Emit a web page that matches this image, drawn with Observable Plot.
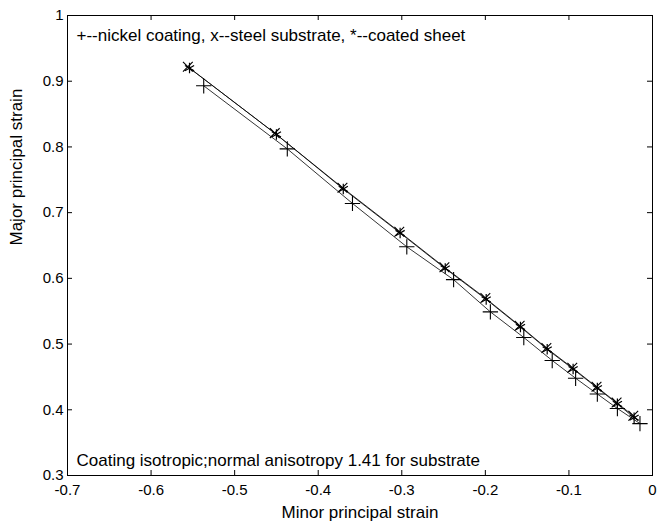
<!DOCTYPE html>
<html>
<head>
<meta charset="utf-8">
<script src="https://cdn.jsdelivr.net/npm/d3@7"></script>
<script src="https://cdn.jsdelivr.net/npm/@observablehq/plot@0.6"></script>
<style>
  html, body { margin: 0; padding: 0; background: #fff; }
  #chart { width: 665px; height: 522px; }
</style>
</head>
<body>
<div id="chart"></div>
<script>
// + nickel coating
const nickelMinor = [-0.537, -0.437, -0.359, -0.294, -0.238, -0.194, -0.154, -0.120, -0.092, -0.066, -0.042, -0.015];
const nickelMajor = [0.893, 0.797, 0.714, 0.648, 0.598, 0.549, 0.510, 0.475, 0.448, 0.424, 0.402, 0.379];
// x steel substrate
const steelMinor = [-0.556, -0.452, -0.371, -0.303, -0.249, -0.200, -0.159, -0.127, -0.096, -0.067, -0.043, -0.023];
const steelMajor = [0.922, 0.821, 0.738, 0.671, 0.617, 0.570, 0.528, 0.494, 0.464, 0.435, 0.411, 0.391];
// * coated sheet
const sheetMinor = [-0.554, -0.450, -0.370, -0.302, -0.248, -0.199, -0.158, -0.126, -0.095, -0.066, -0.042, -0.022];
const sheetMajor = [0.920, 0.819, 0.736, 0.669, 0.615, 0.568, 0.526, 0.492, 0.462, 0.433, 0.409, 0.388];

const xTicks = [-0.7, -0.6, -0.5, -0.4, -0.3, -0.2, -0.1, 0];
const yTicks = [0.3, 0.4, 0.5, 0.6, 0.7, 0.8, 0.9, 1];
const legendText = "+--nickel coating, x--steel substrate, *--coated sheet";
const noteText = "Coating isotropic;normal anisotropy 1.41 for substrate";
const xLabel = "Minor principal strain";
const yLabel = "Major principal strain";

const toRows = (xs, ys) => xs.map((x, i) => ({x, y: ys[i]}));
const nickel = toRows(nickelMinor, nickelMajor);
const steel = toRows(steelMinor, steelMajor);
const sheet = toRows(sheetMinor, sheetMajor);

const fmt = d => String(+d.toFixed(1));
const font = "Liberation Sans, Arial, sans-serif";

const W = 665, H = 522, ML = 67, MR = 13, MT = 15, MB = 47;
const fw = W - ML - MR, fh = H - MT - MB, tl = 5;

const chart = Plot.plot({
  width: W,
  height: H,
  marginLeft: ML,
  marginRight: MR,
  marginTop: MT,
  marginBottom: MB,
  style: {fontFamily: font, fontSize: "15px", color: "#000", background: "#fff"},
  x: {domain: [-0.7, 0], ticks: xTicks},
  y: {domain: [0.3, 1], ticks: yTicks},
  marks: [
    // tick labels
    Plot.axisX({ticks: xTicks, tickSize: 0, tickPadding: 9, tickFormat: fmt, label: null, fontSize: 15}),
    Plot.axisY({ticks: yTicks, tickSize: 0, tickPadding: 4, tickFormat: fmt, label: null, fontSize: 15}),
    // inward ticks on all sides
    Plot.ruleX(xTicks, {x: d => d, insetTop: fh - tl, stroke: "#000"}),
    Plot.ruleX(xTicks, {x: d => d, insetBottom: fh - tl, stroke: "#000"}),
    Plot.ruleY(yTicks, {y: d => d, insetRight: fw - tl, stroke: "#000"}),
    Plot.ruleY(yTicks, {y: d => d, insetLeft: fw - tl, stroke: "#000"}),
    Plot.frame({stroke: "#000", strokeWidth: 1}),
    // lines
    Plot.line(nickel, {x: "x", y: "y", stroke: "#000", strokeWidth: 0.8}),
    Plot.line(steel, {x: "x", y: "y", stroke: "#000", strokeWidth: 0.8}),
    Plot.line(sheet, {x: "x", y: "y", stroke: "#000", strokeWidth: 0.8}),
    // markers
    Plot.dot(nickel, {x: "x", y: "y", symbol: "plus", stroke: "#000", strokeWidth: 1.1, r: 5}),
    Plot.dot(steel, {x: "x", y: "y", symbol: "times", stroke: "#000", strokeWidth: 1.1, r: 4.5}),
    Plot.dot(sheet, {x: "x", y: "y", symbol: "asterisk", stroke: "#000", strokeWidth: 1.2, r: 5}),
    // annotations
    Plot.text([legendText], {frameAnchor: "top-left", text: d => d, dx: 9, dy: 13, textAnchor: "start", fontSize: 17, fill: "#000"}),
    Plot.text([noteText], {frameAnchor: "bottom-left", text: d => d, dx: 9, dy: -10, textAnchor: "start", fontSize: 17, fill: "#000"}),
    // axis titles
    Plot.text([xLabel], {frameAnchor: "bottom", text: d => d, dy: 42, fontSize: 17, fill: "#000"}),
    Plot.text([yLabel], {frameAnchor: "left", text: d => d, dx: -51, rotate: -90, fontSize: 17, fill: "#000"})
  ]
});
document.getElementById("chart").appendChild(chart);
</script>
</body>
</html>
